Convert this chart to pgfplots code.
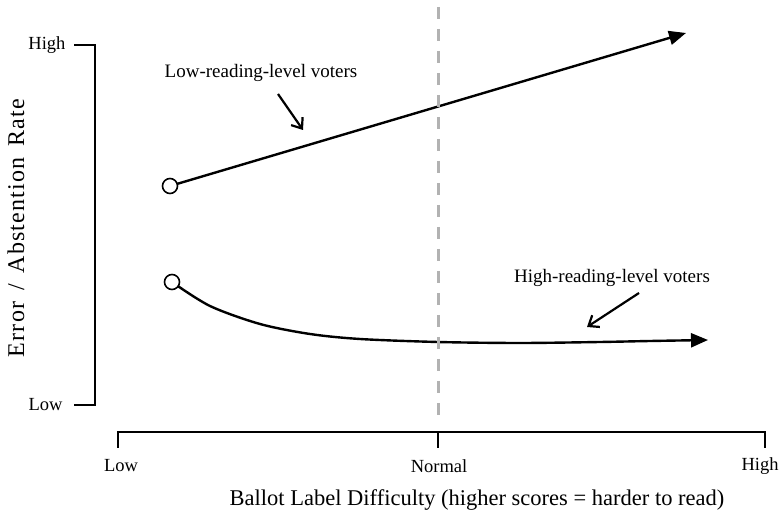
\documentclass[border=0pt]{standalone}
\usepackage{pgfplots}
\pgfplotsset{compat=1.18}
\usepackage{fontspec}
\setmainfont{Liberation Serif}
\usetikzlibrary{arrows.meta}
\begin{document}
\begin{tikzpicture}
\begin{axis}[
  scale only axis, width=784pt, height=519pt,
  xmin=0, xmax=784, ymin=0, ymax=519,
  hide axis, clip=false,
]
% bounding box
\draw[draw=none] (axis cs:0,0) rectangle (axis cs:784,519);
% left axis
\draw[line width=2.6pt] (axis cs:74,474) -- (axis cs:95,474) -- (axis cs:95,114) -- (axis cs:74,114);
\node[anchor=east, font=\fontsize{18.5}{20}\selectfont] at (axis cs:69,474) {High};
\node[anchor=east, font=\fontsize{18.5}{20}\selectfont] at (axis cs:66,114) {Low};
% bottom axis
\draw[line width=2.6pt] (axis cs:118,71) -- (axis cs:118,87) -- (axis cs:765,87) -- (axis cs:765,71);
\draw[line width=2.6pt] (axis cs:438,87) -- (axis cs:438,71);
\node[font=\fontsize{18.5}{20}\selectfont] at (axis cs:121,53) {Low};
\node[font=\fontsize{18.5}{20}\selectfont] at (axis cs:439,53) {Normal};
\node[font=\fontsize{18.5}{20}\selectfont] at (axis cs:760,53) {High};
% axis titles
\node[font=\fontsize{22.5}{24}\selectfont] at (axis cs:477,19) {Ballot Label Difficulty (higher scores = harder to read)};
\node[rotate=90, font=\fontsize{24}{26}\selectfont\addfontfeature{LetterSpace=5}] at (axis cs:16,291) {Error\hspace{0.45em}/\hspace{0.45em}Abstention\hspace{0.45em}Rate};
% data: low-reading-level voters
\addplot[black, line width=2.4pt, -{Triangle[length=17pt,width=14pt]}] coordinates {(170,333) (686,486)};
% data: high-reading-level voters
\addplot[black, line width=2.4pt, smooth, -{Triangle[length=17pt,width=14pt]}] coordinates {
 (172,237) (210,213) (260,195) (310,185) (360,180) (438,177) (520,176) (600,177) (650,178) (708,179)};
% start circles
\addplot[only marks, mark=*, mark size=7.5pt, mark options={fill=white, draw=black, line width=1.6pt}] coordinates {(170,333) (172,237)};
% dashed normal line (drawn on top)
\draw[black!30, line width=3pt, dash pattern=on 12pt off 10pt] (axis cs:438,512) -- (axis cs:438,104);
% annotations
\node[font=\fontsize{19}{20}\selectfont] at (axis cs:261,446) {Low-reading-level voters};
\draw[line width=2.2pt, -{Straight Barb[length=9pt,width=14pt]}] (axis cs:278,425) -- (axis cs:303,389);
\node[font=\fontsize{19}{20}\selectfont] at (axis cs:612,241) {High-reading-level voters};
\draw[line width=2.2pt, -{Straight Barb[length=9pt,width=14pt]}] (axis cs:639,226) -- (axis cs:587,192);
\end{axis}
\end{tikzpicture}
\end{document}
